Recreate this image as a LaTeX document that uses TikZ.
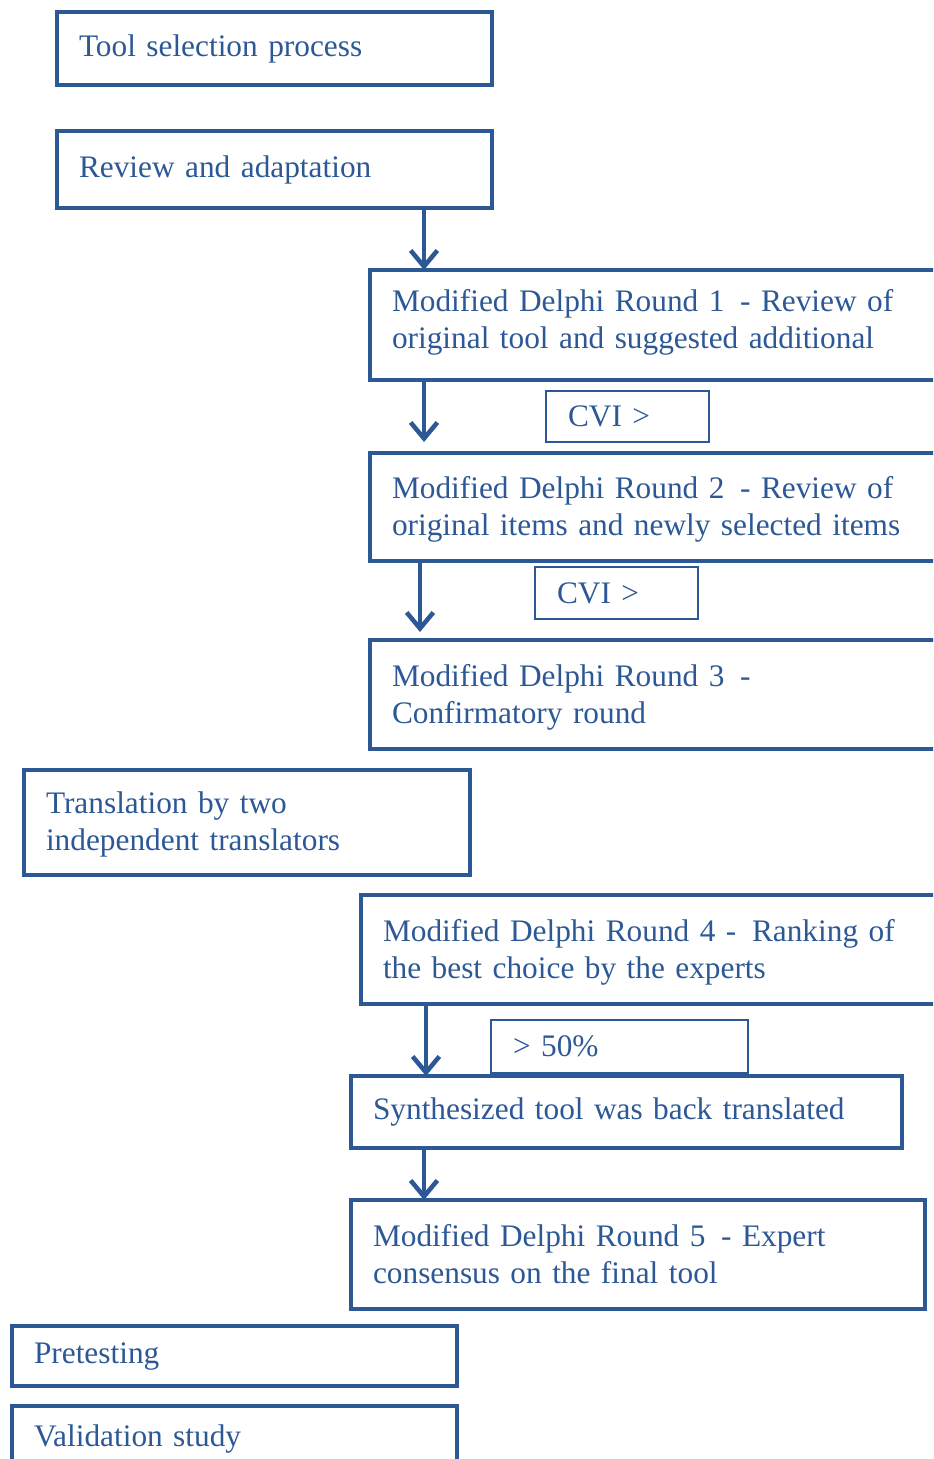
\documentclass[tikz,border=0pt]{standalone}
\usepackage{fontspec}
\setmainfont{Liberation Serif}
\usetikzlibrary{arrows.meta}
\definecolor{delphiblue}{RGB}{44,88,150}
\begin{document}
\begin{tikzpicture}[x=0.375pt,y=-0.375pt]
\def\u{0.375pt}
\tikzset{box/.style 2 args={draw=delphiblue,line width=1.4pt,text=delphiblue,anchor=north west,outer sep=0pt,
  align=left,inner xsep=22*\u,inner ysep=0pt,text width={(#1-44)*\u},minimum height={#2*\u},
  font=\fontsize{11.75pt}{13.9pt}\selectfont},
cvi/.style 2 args={box={#1}{#2},line width=0.7pt},
flow/.style={draw=delphiblue,line width=1.7pt,-{Straight Barb[length=6pt,width=10pt,line width=1.7pt]}}}
\useasboundingbox (0,0) rectangle (933,1459);
\clip (0,0) rectangle (933,1459);
\node[box={435}{73}] at (57,12) (tool) {Tool selection process};
\node[box={435}{77}] at (57,131) (review) {Review and adaptation};
\node[box={600}{110},text depth=18.75pt] at (370,270) (r1) {Modified Delphi Round 1\hspace{0.5em}- Review of\\ original tool and suggested additional};
\node[cvi={163}{51}] at (546,391) (cvia) {CVI >};
\node[box={600}{108},text depth=15pt] at (370,453) (r2) {Modified Delphi Round 2\hspace{0.5em}- Review of\\ original items and newly selected items};
\node[cvi={163}{52}] at (535,567) (cvib) {CVI >};
\node[box={600}{109},text depth=14.25pt] at (370,640) (r3) {Modified Delphi Round 3\hspace{0.5em}-\\ Confirmatory round};
\node[box={446}{105},text depth=15pt] at (24,770) (transl) {Translation by two\\ independent translators};
\node[box={600}{109},text depth=14.25pt] at (361,895) (r4) {Modified Delphi Round 4 -\hspace{0.5em}Ranking of\\ the best choice by the experts};
\node[cvi={257}{53},text depth=0pt] at (491,1020) (pct) {> 50\%};
\node[box={551}{72}] at (351,1076) (synth) {Synthesized tool was back translated};
\node[box={574}{109},text depth=14.25pt] at (351,1200) (r5) {Modified Delphi Round 5\hspace{0.5em}- Expert\\ consensus on the final tool};
\node[box={445}{60}] at (12,1326) (pretest) {Pretesting};
\node[box={445}{66},text depth=2.5pt] at (12,1406) (valid) {Validation study};
\draw[flow] ([xshift=-68*\u]review.south east) -- ([xshift=54*\u]r1.north west);
\draw[flow,shorten >=11*\u] ([xshift=54*\u]r1.south west) -- ([xshift=54*\u]r2.north west);
\draw[flow,shorten >=8*\u] ([xshift=50*\u]r2.south west) -- ([xshift=50*\u]r3.north west);
\draw[flow] ([xshift=65*\u]r4.south west) -- ([xshift=75*\u]synth.north west);
\draw[flow] ([xshift=73*\u]synth.south west) -- ([xshift=73*\u]r5.north west);
\end{tikzpicture}
\end{document}
